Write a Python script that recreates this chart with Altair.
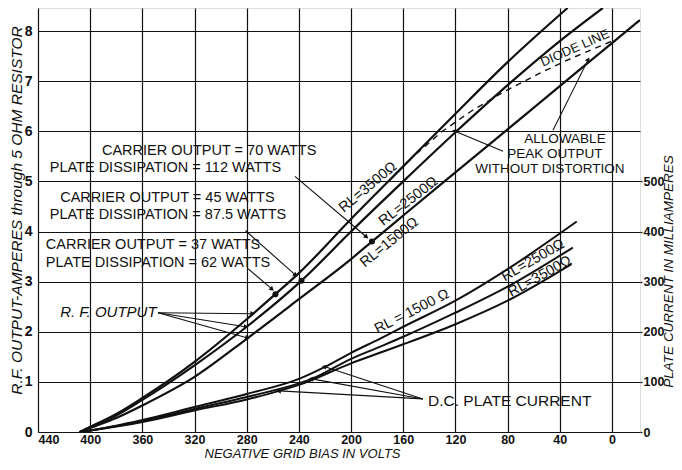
import math
import altair as alt
import pandas as pd

# ---------------- data ----------------
x_ticks = [440, 400, 360, 320, 280, 240, 200, 160, 120, 80, 40, 0]
y_ticks = [0, 1, 2, 3, 4, 5, 6, 7, 8]
ma_ticks = [0, 100, 200, 300, 400, 500]

# R.F. output (amperes) vs negative grid bias (volts)
rf_3500_v = [408, 400, 380, 360, 320, 280, 258, 240, 200, 160, 120, 80, 34]
rf_3500_a = [0, 0.1, 0.36, 0.68, 1.4, 2.25, 2.75, 3.17, 4.25, 5.3, 6.35, 7.38, 8.46]
rf_2500_v = [408, 400, 380, 360, 320, 280, 238, 200, 160, 120, 80, 40, 7]
rf_2500_a = [0, 0.1, 0.33, 0.64, 1.33, 2.1, 3.02, 4.0, 5.0, 5.98, 6.92, 7.8, 8.46]
rf_1500_v = [408, 400, 380, 360, 320, 280, 240, 200, 184, 160, 120, 80, 40, 0, -21.5]
rf_1500_a = [0, 0.08, 0.28, 0.53, 1.1, 1.86, 2.65, 3.45, 3.8, 4.32, 5.18, 6.04, 6.9, 7.76, 8.22]

# diode line (dashed)
diode_v = [150, 130, 108, 82, 56, 36, 20, 0]
diode_a = [5.55, 6.0, 6.4, 6.8, 7.15, 7.4, 7.58, 7.8]

# D.C. plate current (milliamperes)
dc_1500_v = [408, 400, 360, 320, 280, 240, 220, 200, 178, 160, 120, 80, 27]
dc_1500_ma = [0, 3, 24, 50, 76, 106, 130, 158, 186, 210, 262, 325, 420]
dc_2500_v = [408, 400, 360, 320, 280, 240, 230, 200, 178, 160, 120, 80, 30]
dc_2500_ma = [0, 3, 22, 46, 70, 97, 106, 146, 170, 190, 238, 290, 368]
dc_3500_v = [408, 400, 360, 320, 280, 255, 240, 200, 178, 160, 120, 80, 31]
dc_3500_ma = [0, 3, 20, 43, 65, 82, 94, 137, 158, 175, 215, 262, 335]

# operating points (carrier output) on the R.F. curves
dot_v = [258, 238, 184]
dot_a = [2.75, 3.02, 3.8]

# annotation texts: text, volts, amperes, angle, align, italic, font size
notes = [
    ("CARRIER OUTPUT = 70 WATTS", 391, 5.6, 0, "left", False, 14.5),
    ("PLATE DISSIPATION = 112 WATTS", 431, 5.26, 0, "left", False, 14.5),
    ("CARRIER OUTPUT = 45 WATTS", 423, 4.66, 0, "left", False, 14.5),
    ("PLATE DISSIPATION = 87.5 WATTS", 431, 4.32, 0, "left", False, 14.5),
    ("CARRIER OUTPUT = 37 WATTS", 434, 3.73, 0, "left", False, 14.5),
    ("PLATE DISSIPATION = 62 WATTS", 434, 3.37, 0, "left", False, 14.5),
    ("R. F. OUTPUT", 423, 2.4, 0, "left", True, 15),
    ("D.C. PLATE CURRENT", 141, 0.62, 0, "left", False, 15.5),
    ("ALLOWABLE", 36, 5.84, 0, "center", False, 13.5),
    ("PEAK OUTPUT", 43.7, 5.54, 0, "center", False, 13.5),
    ("WITHOUT DISTORTION", 47.5, 5.24, 0, "center", False, 13.5),
    ("DIODE LINE", 28.3, 7.66, 336, "center", False, 13),
    ("RL=3500Ω", 187, 4.88, 320, "center", False, 14.5),
    ("RL=2500Ω", 156, 4.6, 322, "center", False, 14.5),
    ("RL=1500Ω", 170.6, 3.78, 321, "center", False, 14.5),
    ("RL = 1500 Ω", 153.3, 2.4, 333, "center", False, 14.5),
    ("RL=2500Ω", 60.5, 3.42, 330, "center", False, 14.5),
    ("RL=3500Ω", 55.2, 3.1, 331, "center", False, 14.5),
]

# annotation arrows: from (volts, amperes) to (volts, amperes)
arrows = [
    (348, 2.38, 276, 2.36),
    (348, 2.38, 281, 2.1),
    (348, 2.38, 280, 1.88),
    (279, 3.26, 261, 2.86),
    (281, 4.02, 243, 3.14),
    (243, 5.1, 188.6, 3.9),
    (83.5, 5.6, 120.3, 6.0),
    (45.2, 6.02, 18.4, 7.42),
    (144.9, 0.66, 220, 1.30),
    (144.9, 0.66, 230, 1.06),
    (144.9, 0.66, 255, 0.82),
]

# ---------------- chart ----------------
FONT = "Liberation Sans"
W, H = 602, 424
XDOM = [440, -21.5]
YDOM = [0, 8.46]
MADOM = [0, 846]
INK = "#111"

xsc = alt.Scale(domain=XDOM, nice=False, zero=False)
ysc = alt.Scale(domain=YDOM, nice=False, zero=False)
masc = alt.Scale(domain=MADOM, nice=False, zero=False)

x_axis = alt.Axis(values=x_ticks, title="NEGATIVE GRID BIAS IN VOLTS", grid=True,
                  gridColor=INK, gridWidth=1.2, gridOpacity=1, ticks=False,
                  domain=False, labelFont=FONT, labelFontSize=12.5, labelFontWeight="bold",
                  labelColor=INK, labelPadding=1, labelFlush=True,
                  titleFont=FONT, titleFontSize=13, titleFontStyle="italic",
                  titleFontWeight="normal", titleColor=INK,
                  titleX=264, titleY=21, titleBaseline="middle")
y_axis = alt.Axis(values=y_ticks, title="R.F. OUTPUT-AMPERES through 5 OHM RESISTOR",
                  grid=True, gridColor=INK, gridWidth=1.2, gridOpacity=1, ticks=False,
                  domain=False, labelFont=FONT, labelFontSize=14, labelFontWeight="bold",
                  labelColor=INK, labelPadding=6,
                  titleFont=FONT, titleFontSize=15.5, titleFontStyle="italic",
                  titleFontWeight="normal", titleColor=INK, titleAngle=270,
                  titleX=-22, titleY=202, titleBaseline="middle")
ma_axis = alt.Axis(values=ma_ticks, title="PLATE CURRENT IN MILLIAMPERES", orient="right",
                   grid=False, ticks=True, tickSize=2, tickColor=INK, tickWidth=1.3,
                   domain=False, labelFont=FONT, labelFontSize=12.5, labelFontWeight="bold",
                   labelColor=INK, labelPadding=1,
                   titleFont=FONT, titleFontSize=13.5, titleFontStyle="italic",
                   titleFontWeight="normal", titleColor=INK, titleAngle=270,
                   titleX=28, titleY=263, titleBaseline="middle")

X = alt.X("v:Q", scale=xsc, axis=x_axis)
Y = alt.Y("a:Q", scale=ysc, axis=y_axis)


def series(vs, ys, name):
    return pd.DataFrame({"v": vs, "a": ys, "s": name, "o": range(len(vs))})


rf_df = pd.concat([series(rf_3500_v, rf_3500_a, "3500"),
                   series(rf_2500_v, rf_2500_a, "2500"),
                   series(rf_1500_v, rf_1500_a, "1500")])
rf = alt.Chart(rf_df).mark_line(color=INK, strokeWidth=2.2, clip=True,
                                interpolate="monotone").encode(
    x=X, y=Y, detail="s:N", order="o:Q")

diode = alt.Chart(series(diode_v, diode_a, "d")).mark_line(
    color=INK, strokeWidth=1.4, strokeDash=[6, 5], clip=True).encode(
    x=X, y=Y, order="o:Q")

dots = alt.Chart(pd.DataFrame({"v": dot_v, "a": dot_a})).mark_circle(
    color=INK, size=36, opacity=1).encode(x=X, y=Y)

kx = W / (XDOM[0] - XDOM[1])
ky = H / (YDOM[1] - YDOM[0])
arr_rows = []
for v1, a1, v2, a2 in arrows:
    dx = (v1 - v2) * kx          # screen x grows as volts fall
    dy = (a1 - a2) * ky          # screen y grows as amperes fall
    ang = math.degrees(math.atan2(dx, -dy)) % 360
    arr_rows.append({"v": v1, "a": a1, "v2": v2, "a2": a2, "ang": ang})
arr_df = pd.DataFrame(arr_rows)
arrow_lines = alt.Chart(arr_df).mark_rule(color=INK, strokeWidth=1.1).encode(
    x=X, y=Y, x2="v2:Q", y2="a2:Q")
heads = alt.Chart(arr_df).mark_point(shape="triangle", filled=True, color=INK,
                                     size=28, opacity=1).encode(
    x=alt.X("v2:Q", scale=xsc, axis=x_axis), y=alt.Y("a2:Q", scale=ysc, axis=y_axis),
    angle=alt.Angle("ang:Q", scale=None))

notes_df = pd.DataFrame(notes, columns=["t", "v", "a", "ang", "al", "it", "fs"])
text_layers = []
for (al, it), g in notes_df.groupby(["al", "it"]):
    text_layers.append(alt.Chart(g).mark_text(
        font=FONT, color=INK, align=al, baseline="middle",
        fontStyle="italic" if it else "normal").encode(
        x=X, y=Y, text="t:N", size=alt.Size("fs:Q", scale=None),
        angle=alt.Angle("ang:Q", scale=None)))

left = alt.layer(rf, diode, dots, arrow_lines, heads, *text_layers)

dc_df = pd.concat([series(dc_1500_v, dc_1500_ma, "1500"),
                   series(dc_2500_v, dc_2500_ma, "2500"),
                   series(dc_3500_v, dc_3500_ma, "3500")]).rename(columns={"a": "m"})
dc = alt.Chart(dc_df).mark_line(color=INK, strokeWidth=2.0, clip=True,
                                interpolate="monotone").encode(
    x=X, y=alt.Y("m:Q", scale=masc, axis=ma_axis), detail="s:N", order="o:Q")

chart = alt.layer(left, dc).resolve_scale(y="independent").properties(
    width=W, height=H,
    autosize=alt.AutoSizeParams(type="none"),
    padding={"left": 30, "top": 0, "right": 34, "bottom": 28},
).configure_view(stroke=INK, strokeWidth=1.6).configure(background="white")

chart.save("out.html", embed_options={"renderer": "svg", "actions": False})
